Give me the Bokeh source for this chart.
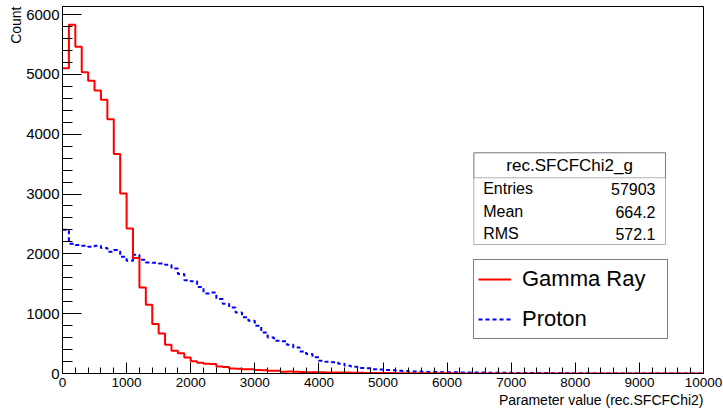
import numpy as np
from bokeh.plotting import figure
from bokeh.models import (Legend, LegendItem, BoxAnnotation, Label, Title,
                          SingleIntervalTicker)
from bokeh.embed import file_html
from bokeh.resources import INLINE

# ---------------- data ----------------
x_min, x_max, n_bins = 0, 10000, 100

gamma_counts = [
    5100, 5830, 5460, 5035, 4895, 4728, 4577, 4248, 3669, 3010,
    2425, 1930, 1438, 1149, 826, 669, 480, 380, 340, 268,
    205, 180, 165, 160, 115, 110, 85, 80, 72, 70,
    57, 55, 45, 45, 30, 32, 28, 25, 22, 20,
    20, 18, 18, 15, 15, 12, 12, 10, 10, 8,
    8, 7, 6, 6, 5, 5, 4, 4, 3, 3,
    3, 2, 2, 2, 2, 2, 1, 1, 1, 1,
    1, 1, 1, 0, 1, 0, 1, 0, 0, 1,
    0, 0, 0, 0, 0, 0, 0, 0, 0, 0,
    0, 0, 0, 0, 0, 0, 0, 0, 0, 0,
]

proton_counts = [
    2403, 2170, 2147, 2135, 2118, 2135, 2097, 2035, 2063, 1951,
    1885, 1985, 1901, 1856, 1850, 1840, 1818, 1755, 1665, 1560,
    1540, 1445, 1338, 1352, 1244, 1165, 1104, 1020, 940, 881,
    797, 686, 602, 547, 540, 480, 435, 368, 324, 270,
    212, 196, 190, 165, 129, 112, 92, 87, 73, 68,
    57, 55, 45, 43, 34, 32, 28, 26, 25, 22,
    20, 20, 18, 17, 15, 15, 14, 13, 12, 12,
    10, 10, 9, 8, 8, 7, 6, 6, 5, 5,
    4, 3, 2, 2, 1, 1, 1, 1, 0, 0,
    0, 0, 0, 0, 0, 0, 0, 0, 0, 0,
]

series_labels = ["Gamma Ray", "Proton"]
stats_title = "rec.SFCFChi2_g"
stat_names = ["Entries", "Mean", "RMS"]
stat_values = ["57903", "664.2", "572.1"]
x_title = "Parameter value (rec.SFCFChi2)"
y_title = "Count"

# ---------------- figure ----------------
FONT = "Liberation Sans"
Y_END = 6134
RED = "#ff0000"
BLUE = "#0000ff"

edges = np.linspace(x_min, x_max, n_bins + 1)
g_y = list(gamma_counts) + [gamma_counts[-1]]
p_y = list(proton_counts) + [proton_counts[-1]]

p = figure(width=723, height=410, x_range=(x_min, x_max), y_range=(0, Y_END),
           output_backend="svg", toolbar_location=None,
           min_border_left=62, min_border_right=20, min_border_top=6,
           min_border_bottom=37)
p.background_fill_color = "white"
p.border_fill_color = "white"
p.outline_line_color = "black"
p.outline_line_width = 1
p.xgrid.visible = False
p.ygrid.visible = False

p.xaxis.ticker = SingleIntervalTicker(interval=1000, num_minor_ticks=5)
p.yaxis.ticker = SingleIntervalTicker(interval=1000, num_minor_ticks=5)

for ax in (p.xaxis[0], p.yaxis[0]):
    ax.axis_line_color = "black"
    ax.major_tick_line_color = "black"
    ax.minor_tick_line_color = "black"
    ax.major_tick_out = 0
    ax.minor_tick_out = 0
    ax.major_label_text_font = FONT
    ax.major_label_text_color = "black"

p.xaxis.major_tick_in = 11
p.xaxis.minor_tick_in = 6
p.xaxis.major_label_standoff = 4
p.xaxis.major_label_text_font_size = "13.5px"

p.yaxis.major_tick_in = 19
p.yaxis.minor_tick_in = 10
p.yaxis.major_label_standoff = 3
p.yaxis.major_label_text_font_size = "15px"

# axis titles (ROOT style: at the far ends of the axes)
p.add_layout(Title(text=x_title, align="right", text_font=FONT,
                   text_font_size="14px", text_font_style="normal",
                   text_color="black", standoff=0, offset=0), "below")
p.add_layout(Title(text=y_title, align="right", text_font=FONT,
                   text_font_size="14px", text_font_style="normal",
                   text_color="black", standoff=0, offset=0), "left")

# histograms
r_p = p.step(edges, p_y, mode="after", line_color=BLUE, line_width=2,
             line_dash="4 3")
r_g = p.step(edges, g_y, mode="after", line_color=RED, line_width=2)

legend = Legend(items=[LegendItem(label=series_labels[0], renderers=[r_g]),
                       LegendItem(label=series_labels[1], renderers=[r_p])],
                location=(411, 34), margin=0, padding=4, spacing=10,
                glyph_width=33, glyph_height=30, label_height=30,
                label_width=141, label_standoff=11,
                label_text_font=FONT, label_text_font_size="22px",
                label_text_color="black",
                border_line_color="black", border_line_width=1,
                background_fill_color="white", background_fill_alpha=1.0)
p.add_layout(legend)

# statistics box
SB_L, SB_R, SB_B, SB_T, SB_D = 6417, 9407, 2156, 3689, 3271
p.add_layout(BoxAnnotation(left=SB_L, right=SB_R, bottom=SB_B, top=SB_T,
                           fill_color="white", fill_alpha=1.0,
                           line_color="black", line_width=1))
p.add_layout(BoxAnnotation(left=SB_L, right=SB_R, bottom=SB_D, top=SB_T,
                           fill_alpha=0.0, line_color="black", line_width=1))
p.add_layout(Label(x=(SB_L + SB_R) / 2, y=3477, text=stats_title,
                   text_align="center", text_baseline="middle",
                   text_font=FONT, text_font_size="17px", text_color="black"))
row_y = [3092, 2703, 2332]
for name, val, yy in zip(stat_names, stat_values, row_y):
    p.add_layout(Label(x=6563, y=yy, text=name, text_align="left",
                       text_baseline="middle", text_font=FONT,
                       text_font_size="16px", text_color="black"))
    p.add_layout(Label(x=9251, y=yy, text=val, text_align="right",
                       text_baseline="middle", text_font=FONT,
                       text_font_size="16px", text_color="black"))

open("out.html", "w").write(file_html(p, INLINE))
